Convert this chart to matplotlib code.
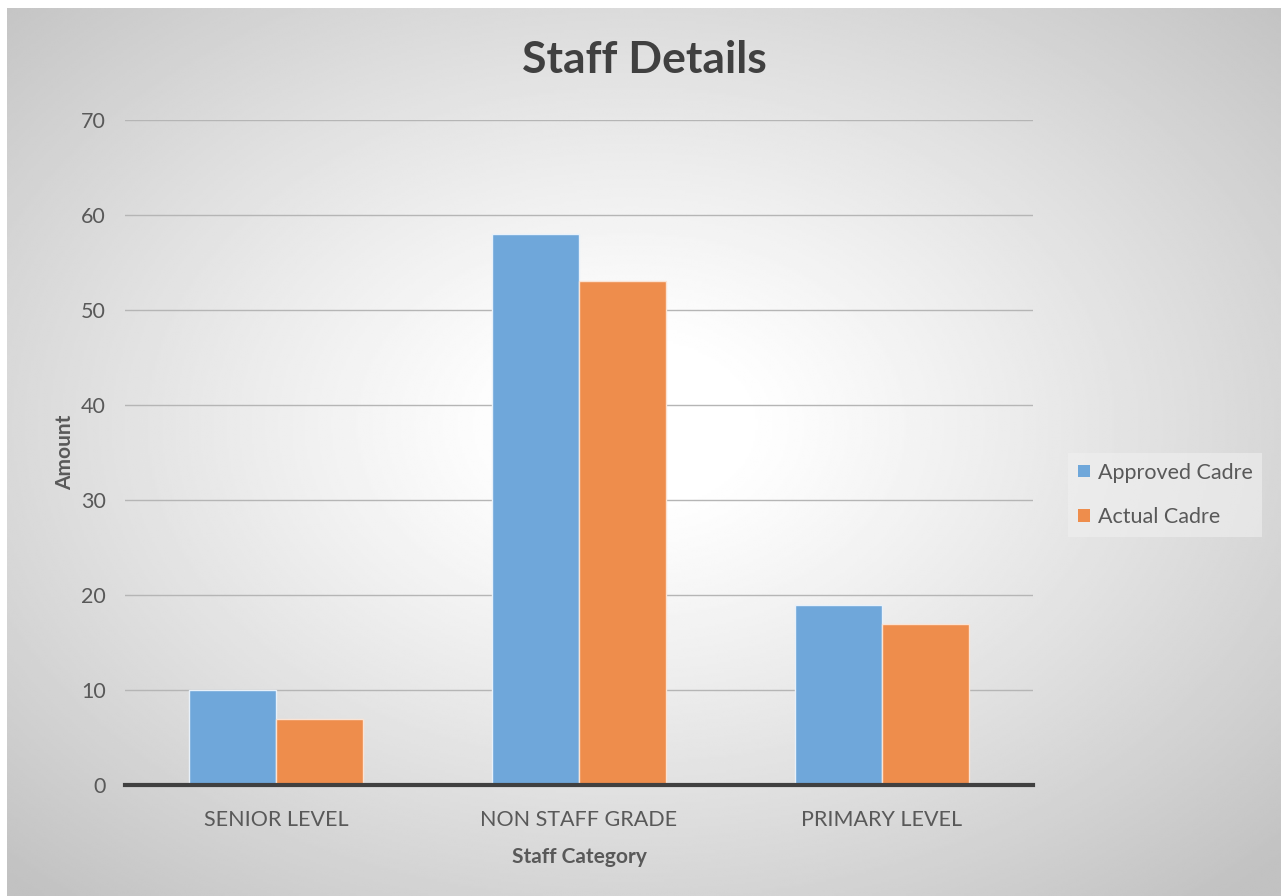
import numpy as np
import matplotlib
matplotlib.use("Agg")
import matplotlib.pyplot as plt
from matplotlib.patches import Patch

categories = ["SENIOR LEVEL", "NON STAFF GRADE", "PRIMARY LEVEL"]
approved = [10, 58, 19]
actual = [7, 53, 17]
series_names = ["Approved Cadre", "Actual Cadre"]

blue = "#6FA7DA"
orange = "#EE8D4C"
txt = "#595959"

plt.rcParams['font.family'] = ['Lato', 'DejaVu Sans']

W, H = 1285, 896
fig = plt.figure(figsize=(W / 100, H / 100), dpi=100, facecolor="white")

# radial grey-to-white background panel (Excel style)
bg = fig.add_axes([7 / W, 0, (1281 - 7) / W, 1 - 8 / H], zorder=-5)
yy, xx = np.mgrid[0:400, 0:600]
dx = (xx / 599 - 0.49) / 0.5
dy = (yy / 399 - 0.47) / 0.5
r = np.sqrt(dx ** 2 + dy ** 2) / np.sqrt(2)
t = np.clip((r - 0.12) / 0.88, 0, 1)
val = 1 - 0.24 * t ** 1.1
bg.imshow(val, cmap="gray", vmin=0, vmax=1, aspect="auto", interpolation="bilinear")
bg.set_axis_off()

ax = fig.add_axes([125 / W, 1 - 785 / H, (1033 - 125) / W, (785 - 120) / H])
ax.set_facecolor("none")

x = np.arange(len(categories))
bw = 0.287
ax.bar(x - bw / 2, approved, bw, color=blue, edgecolor="#e8f1fa", linewidth=1, zorder=3,
       label=series_names[0])
ax.bar(x + bw / 2, actual, bw, color=orange, edgecolor="#fbe3d3", linewidth=1, zorder=3,
       label=series_names[1])

ax.set_xlim(-0.5, 2.5)
ax.set_ylim(0, 70)
ax.set_yticks(range(0, 71, 10))
ax.set_xticks(x)
ax.set_xticklabels(categories)
ax.grid(axis="y", color="#b5b5b5", linewidth=1, zorder=0)
ax.set_axisbelow(True)
for s in ["top", "right", "left"]:
    ax.spines[s].set_visible(False)
ax.spines["bottom"].set_color("#404040")
ax.spines["bottom"].set_linewidth(3)
ax.spines["bottom"].set_zorder(4)
ax.tick_params(axis="both", length=0, labelsize=15.5, labelcolor=txt)
ax.tick_params(axis="y", pad=14)
ax.tick_params(axis="x", pad=18)

ax.set_xlabel("Staff Category", fontsize=15, fontweight="bold", color=txt, labelpad=12)
ax.set_ylabel("Amount", fontsize=15, fontweight="bold", color=txt, labelpad=4)
fig.text(644 / W, 1 - 60 / H, "Staff Details", fontsize=32, fontweight="bold", color="#404040",
         ha="center", va="center")

handles = [Patch(facecolor=blue, edgecolor="none"), Patch(facecolor=orange, edgecolor="none")]
leg = fig.legend(handles, series_names, loc="center left", bbox_to_anchor=(1062 / W, 1 - 495 / H),
                 frameon=True, fontsize=15.5, handlelength=0.55, handleheight=0.55,
                 handletextpad=0.35, labelspacing=1.15, borderpad=0.45, borderaxespad=0.3,
                 fancybox=False)
leg.get_frame().set_facecolor("#f0f0f0")
leg.get_frame().set_edgecolor("none")
leg.get_frame().set_alpha(0.6)
for tx in leg.get_texts():
    tx.set_color(txt)

fig.savefig("out.png", dpi=100, facecolor="white")
